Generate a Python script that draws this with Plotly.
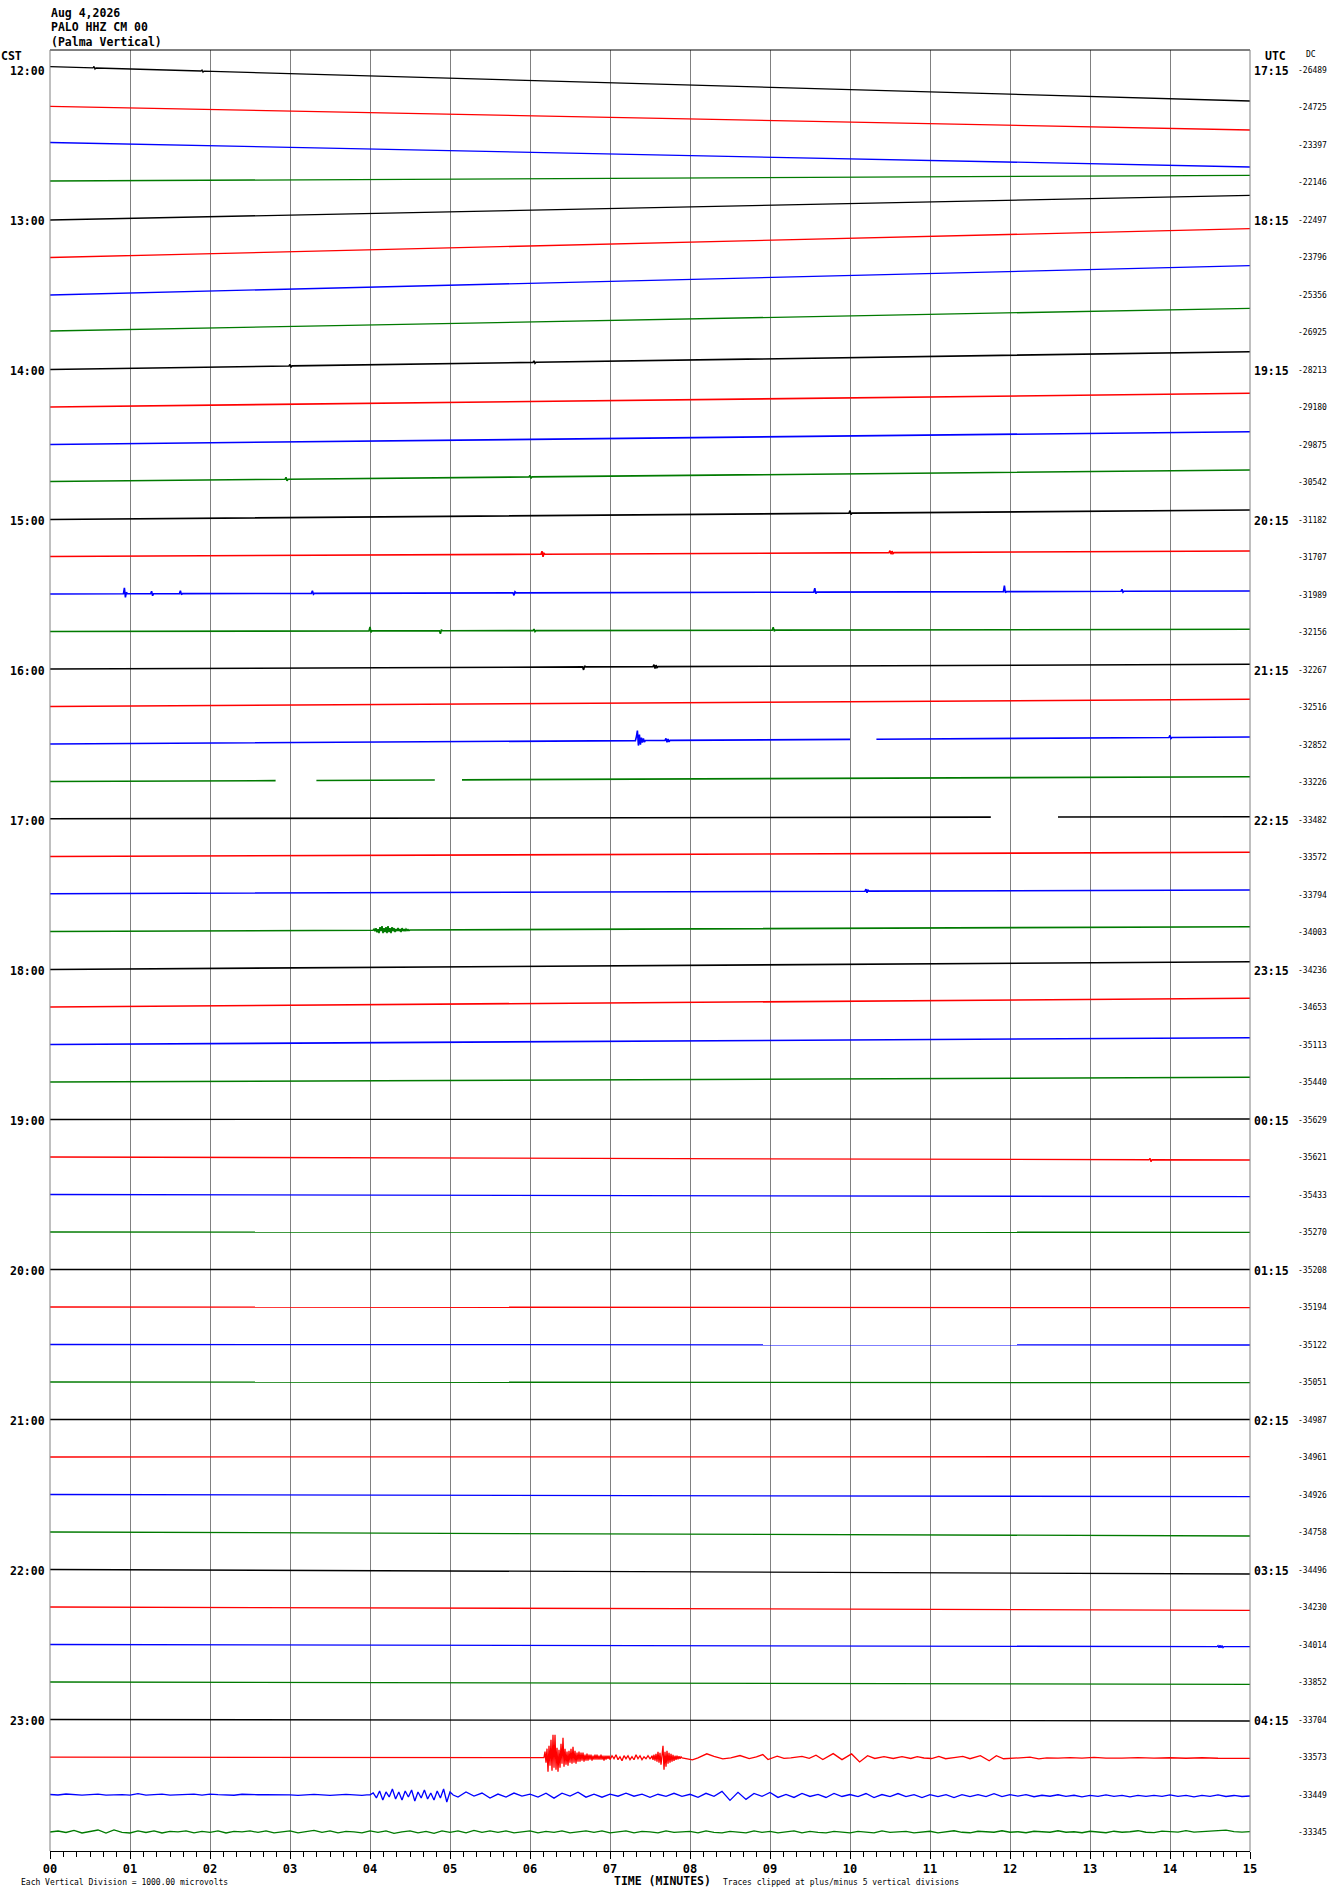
import plotly.graph_objects as go

# ---------------- data ----------------
FIRST_HOUR_CST = 12
FIRST_HOUR_UTC = 17
N_LINES = 48
LINE_MINUTES = 15

MINUTE_TICKS = list(range(0, 16))
MINUTE_LABELS = [f"{m:02d}" for m in MINUTE_TICKS]

DC_VALUES = [-26489, -24725, -23397, -22146, -22497, -23796, -25356, -26925,
             -28213, -29180, -29875, -30542, -31182, -31707, -31989, -32156,
             -32267, -32516, -32852, -33226, -33482, -33572, -33794, -34003,
             -34236, -34653, -35113, -35440, -35629, -35621, -35433, -35270,
             -35208, -35194, -35122, -35051, -34987, -34961, -34926, -34758,
             -34496, -34230, -34014, -33852, -33704, -33573, -33449, -33345]

# trace offset (screen px, + = down) at minute 0 and minute 15
START_OFFSET = [-3.3, -1.2, -2.5, -1.5, 0, 0, 0, -1.5,
                -0.5, -0.5, -0.5, -1, -0.5, -1, -1, -1,
                -1, -1, -1, -1, -1.3, -1, -1.3, -1,
                -0.5, -0.5, -0.5, -0.5, -0.5, -0.5, -0.5, -0.5,
                -0.5, -0.5, -0.5, -0.5, -0.5, -0.5, -0.5, -0.5,
                -0.5, -0.5, -0.5, -0.5, -0.5, -0.3, -0.5, -0.5]
END_OFFSET = [31, 22.5, 22, -7.2, -24.7, -28.8, -29.3, -24.2,
              -18.3, -14.2, -13.3, -12.5, -10, -6.5, -4, -3.2,
              -5.7, -8.2, -8, -5.8, -3.3, -5.2, -5, -5.8,
              -8.3, -9.2, -7.3, -5.2, -1, 2.5, 1.7, -0.2,
              -0.5, 0.2, 0, 0.2, -0.5, -0.8, 1.7, 3.5,
              4, 2.8, 1.7, 1.8, 1, 0.8, 1, -0.8]

# data gaps (minutes)
GAPS = {18: [(10.0, 10.33)], 19: [(2.82, 3.33), (4.81, 5.15)], 20: [(11.76, 12.6)]}

# wiggles: (start minute, sample step in minutes, offsets in px)
EQ_BURST_1 = [0, -6, 5, -9, 14, -12, 8, -18, 13, -23, 10, -23, 12, -10, 14, -8,
              10, -14, 6, -20, 9, -9, 7, -6, 8, -7, 5, -9, 6, -11, 5, -7, 6, -5,
              4, -6, 4, -5, 3, -5, 4, -3, 3, -4, 3, -3, 2, -3, 3, -2, 2, -3, 2,
              -3, 2, -2, 2, -3, 2, -2, 3, -2, 2, -2, 1, -2]
EQ_MID = [2, -2, 1, -3, 2, -1, 3, -2, 1, -2, 2, -1, 2, -3, 1, -2, 2, -1, 1, -2, 1]
EQ_BURST_2 = [-2, 2, -3, 3, -4, 4, -6, 5, -5, 7, -8, -12, 12, -6, 9, -7, 6, -5,
              5, -4, 4, -3, 3, -2, 2, -2, 1.5, -1.5, 1, -1]
EQ_WAVE_T = [7.95, 8.03, 8.1, 8.21, 8.30, 8.41, 8.51, 8.625, 8.74, 8.83, 8.91,
             8.975, 9.09, 9.175, 9.26, 9.40, 9.49, 9.575, 9.66, 9.79, 9.90,
             10.02, 10.12, 10.22, 10.31, 10.425, 10.54, 10.65, 10.76, 10.84,
             10.925, 11.02, 11.11, 11.195, 11.30, 11.41, 11.50, 11.63, 11.74,
             11.83, 11.92, 12.01, 12.125, 12.25, 12.36, 12.46, 12.6, 12.75,
             12.9, 13.05, 13.2, 13.4, 13.6, 13.8, 14.0, 14.2, 14.4, 14.6, 14.8]
EQ_WAVE_V = [1, 2, 0, -4, -1.5, 1, 0, -2.3, 0.7, -1, -3.3, 1.7, -1.7, 0.5, 0,
             -1.5, 0.5, -2.7, 1.7, -4.3, 1.7, -4, 4, -2.3, 0.5, -1.3, 0.5, -1.3,
             0.5, -1.3, 0, 0.5, -1.7, 0.7, -0.5, -1.7, 0.7, -2.3, 2.7, -2.3, 0.7,
             0, -0.3, -1, 0.7, -0.3, 0, -0.5, 0, -0.7, 0, 0, -0.5, 0, -0.5, 0,
             -0.5, 0, 0]

BLUE_LAST_A = [0, 0.5, -0.5, 0, 0.5, 0, -0.5, 0.5, 0, 0,
               0.5, -1, 0.5, 0, -0.5, 0.5, 0, 0, -0.5, 0.5,
               -0.5, 0, 0, 0.5, -0.5, 0, 0, 0, 0, -0.5,
               0, 0.5, 0, -0.5, 0, 0.5, 0, -0.5, 0, 0.5]
BLUE_LAST_BURST = [0, -2, 3, -4, 5, -3, 2, -6, 4, -3, 5, -4, 2, -5, 6, -3, 3,
                   -5, 4, -2, 5, -4, 3, -6, 7, -3]
BLUE_LAST_C = [2, -3, 1, -2, 3, -1, 2, -2, 1, -1,
               2, -2, 3, -2, 1, -3, 2, -1, 2, -1,
               1, -2, 1, -1, 2, -1, 1, -2, 1, -1,
               2, -2, 1, -4, 5, -3, 4, -2, 1, -3,
               2, -1, 2, -2, 1, -1, 2, -2, 1, -1,
               1, -2, 2, -1, 1, -2, 1, -1, 2, -1,
               1, -1, 2, -1, 1, -1, 1, -2, 1, -1,
               0.5, -1, 1, -0.5, 0.5, -1, 0.5, -0.5, 1, -0.5,
               0.5, -1, 0.5, -0.5, 1, -0.5, 0.5, -0.5, 0.5, -1,
               0.5, -0.5, 1, -0.5, 0.5, -1, 0.5, -0.5, 0.5, 0]
GREEN_LAST = [0, -1, 0.5, -1.5, 1, -0.5, -2, 1, -2, 0.5,
              1, -1, 0.5, -1, 1, -0.5, 0, -1, 1, -0.5,
              0.5, -1, 1, -0.5, 0, -1, 0.5, -1, 1, 0,
              -1, 1, 0, -1.5, 0.5, -1, 1, -0.5, 0, 1,
              -1, 0.5, -1, 1.5, 0, -1, 1, -0.5, 1.5, -1,
              0.5, -1, 1, -1.5, 0.5, -1, 0.5, -1, 1, 0,
              -1, 1, -0.5, 0.5, -1, 1, 0, -1, 0.5, -1,
              1, 0, -1, 1, -0.5, 0, 1, -1, 0.5, 0,
              -0.5, 1, -1, 0.5, 1, -0.5, 0, 1, -1, 0.5,
              -0.5, 1, 0, -1, 1, -0.5, 0.5, 1, -0.5, 0,
              1, -0.5, 0, 1, -1, 0.5, 0, -0.5, 1, 0,
              -0.5, 1, 0, -1, 0.5, 1, -0.5, 0, 0.5, -1,
              0.5, 0, 1, -0.5, 0, 0.5, -1, 0.5, 0, 1,
              -0.5, 0, 1, -0.5, 0.5, 0, -1, 0.5, 1, -0.5,
              0, 0.5, -1, 0.5, 0, -0.5, -1, -1.5, 0, 0.5,
              0]
GREEN_1745_BUMP = [-1, 1, -2, 2, -1, 3, -3, 1, -4, 3, -2, 2, -3, 3, -4, 2, -2,
                   3, -3, 1, -2, 2, -1, 1, -2, 1, -1, 2, -2, 1, -1, 1, -1, 0.5,
                   -0.5, 0.5]

FEATURES = {
    0: [(0.55, 0.0125, [-1.5, 1]), (1.9, 0.0125, [-1, 1])],
    8: [(3.0, 0.0125, [-1.5, 1.5]), (6.05, 0.0125, [-1.5, 1])],
    11: [(2.95, 0.0125, [-2, 1.5]), (6.0, 0.0125, [-1.5, 1.5])],
    12: [(10.0, 0.0125, [-2.5, 1.5])],
    13: [(6.15, 0.0125, [-3, 2.5, -1]), (10.5, 0.0125, [-2, 1.5, -1.5, 1])],
    14: [(0.93, 0.0125, [-6, 3.5, -1.5]), (1.27, 0.0125, [-2.5, 2]),
         (1.63, 0.0125, [-3, 1]), (3.28, 0.0125, [-2.5, 1]),
         (5.8, 0.0125, [2.5, -1]), (9.56, 0.0125, [-4, 1.5]),
         (11.93, 0.0125, [-6, 1]), (13.4, 0.0125, [-2, 1])],
    15: [(4.0, 0.0125, [-4, 1.5]), (4.88, 0.0125, [3, -1]),
         (6.05, 0.0125, [-1.5, 1]), (9.04, 0.0125, [-3, 1])],
    16: [(6.67, 0.0125, [3, -1]), (7.55, 0.0125, [-2, 2, -1.5, 1])],
    18: [(7.33, 0.0125, [-4, -10, 5, -6, 4, -3, 2, -2, 1.5]),
         (7.7, 0.0125, [-2, 2, -1.5, 1.5]), (14.0, 0.0125, [-2, 1])],
    22: [(10.2, 0.0125, [-2, 1.5, -1])],
    23: [(4.05, 0.0125, GREEN_1745_BUMP)],
    29: [(13.75, 0.0125, [-1.5, 2])],
    42: [(14.6, 0.0125, [-1, 1, -1.5, 1, -1, 1])],
    45: [(6.175, 0.0125, EQ_BURST_1), (7.0, 0.025, EQ_MID),
         (7.525, 0.0125, EQ_BURST_2)],
    46: [(0.0, 0.1, BLUE_LAST_A), (4.0, 0.04, BLUE_LAST_BURST),
         (5.1, 0.1, BLUE_LAST_C)],
    47: [(0.0, 0.1, GREEN_LAST)],
}
EXPLICIT = {45: (EQ_WAVE_T, EQ_WAVE_V)}

# ---------------- layout / style ----------------
COLORS = ["#000000", "#ff0000", "#0000ff", "#007a00"]
FIG_W, FIG_H = 1330, 1894
PLOT_L, PLOT_R, PLOT_T, PLOT_B = 50, 1250, 50, 1851
LINE0_Y = 70.0
LINE_GAP = 37.5
MONO = "DejaVu Sans Mono"


def px_x(px):
    return (px - PLOT_L) / (PLOT_R - PLOT_L)


def px_y(py):
    return (PLOT_B - py) / (PLOT_B - PLOT_T)


def build_line(i):
    pts = {0.0: 0.0, float(LINE_MINUTES): 0.0}
    gaps = GAPS.get(i, [])
    for a, b in gaps:
        pts[a] = 0.0
        pts[b] = 0.0
    feats = FEATURES.get(i, [])
    for t0, step, vals in feats:
        for tb in (t0 - step, t0 + step * len(vals)):
            if 0 <= tb <= LINE_MINUTES:
                pts.setdefault(round(tb, 5), 0.0)
    for t0, step, vals in feats:
        for k, v in enumerate(vals):
            t = round(t0 + k * step, 5)
            if 0 <= t <= LINE_MINUTES:
                pts[t] = v
    if i in EXPLICIT:
        for t, v in zip(*EXPLICIT[i]):
            pts[round(t, 5)] = v
    xs, ys = [], []
    prev = None
    for t in sorted(pts):
        if any(a < t < b for a, b in gaps):
            continue
        if prev is not None and any(prev <= a and t >= b for a, b in gaps):
            xs.append(None)
            ys.append(None)
        drift = START_OFFSET[i] + (END_OFFSET[i] - START_OFFSET[i]) * t / LINE_MINUTES
        xs.append(t)
        ys.append(i + (drift + pts[t]) / LINE_GAP)
        prev = t
    return xs, ys


fig = go.Figure()
for i in range(N_LINES):
    xs, ys = build_line(i)
    width = 1.6 if 8 <= i < 28 else 1.3
    fig.add_trace(go.Scatter(x=xs, y=ys, mode="lines",
                             line=dict(color=COLORS[i % 4], width=width),
                             hoverinfo="skip", showlegend=False))

ann = []
bold = dict(family=MONO, size=11.5, color="black", weight="bold")
small = dict(family=MONO, size=8, color="black")

for i in range(N_LINES):
    if i % 4 == 0:
        k = i // 4
        ann.append(dict(x=px_x(47), y=i, xref="paper", yref="y", xanchor="right",
                        yanchor="middle", text=f"{FIRST_HOUR_CST + k}:00", font=bold,
                        showarrow=False, yshift=-1))
        ann.append(dict(x=px_x(1252), y=i, xref="paper", yref="y", xanchor="left",
                        yanchor="middle", text=f"{(FIRST_HOUR_UTC + k) % 24:02d}:15",
                        font=bold, showarrow=False, yshift=-1))
    ann.append(dict(x=px_x(1296), y=i, xref="paper", yref="y", xanchor="left",
                    yanchor="middle", text=str(DC_VALUES[i]), font=small,
                    showarrow=False))

header = ["Aug 4,2026", "PALO HHZ CM 00", "(Palma Vertical)"]
for txt, yy in zip(header, [13, 27, 42]):
    ann.append(dict(x=px_x(49), y=px_y(yy), xref="paper", yref="paper",
                    xanchor="left", yanchor="middle", text=txt, font=bold,
                    showarrow=False))
ann.append(dict(x=px_x(-1), y=px_y(56), xref="paper", yref="paper", xanchor="left",
                yanchor="middle", text="CST", font=bold, showarrow=False))
ann.append(dict(x=px_x(1275), y=px_y(56), xref="paper", yref="paper",
                xanchor="center", yanchor="middle", text="UTC", font=bold,
                showarrow=False))
ann.append(dict(x=px_x(1311), y=px_y(54), xref="paper", yref="paper",
                xanchor="center", yanchor="middle", text="DC", font=small,
                showarrow=False))
ann.append(dict(x=px_x(662), y=px_y(1881), xref="paper", yref="paper",
                xanchor="center", yanchor="middle", text="TIME (MINUTES)",
                font=bold, showarrow=False))
ann.append(dict(x=px_x(19), y=px_y(1882), xref="paper", yref="paper",
                xanchor="left", yanchor="middle",
                text="Each Vertical Division = 1000.00 microvolts", font=small,
                showarrow=False))
ann.append(dict(x=px_x(721), y=px_y(1882), xref="paper", yref="paper",
                xanchor="left", yanchor="middle",
                text="Traces clipped at plus/minus 5 vertical divisions",
                font=small, showarrow=False))

shapes = [
    dict(type="line", xref="paper", yref="paper", x0=0, x1=1, y0=1, y1=1,
         line=dict(color="black", width=1)),
    dict(type="line", xref="paper", yref="paper", x0=0, x1=0, y0=0, y1=1,
         line=dict(color="#808080", width=1)),
    dict(type="line", xref="paper", yref="paper", x0=1, x1=1, y0=0, y1=1,
         line=dict(color="#808080", width=1)),
]

fig.update_layout(
    width=FIG_W, height=FIG_H,
    margin=dict(l=PLOT_L, r=FIG_W - PLOT_R, t=PLOT_T, b=FIG_H - PLOT_B),
    paper_bgcolor="white", plot_bgcolor="white",
    hovermode=False, showlegend=False,
    annotations=ann, shapes=shapes,
    xaxis=dict(range=[0, LINE_MINUTES], tickmode="array", tickvals=MINUTE_TICKS,
               ticktext=MINUTE_LABELS, showgrid=True, gridcolor="#808080",
               gridwidth=1, zeroline=False, showline=True, linecolor="black",
               linewidth=1, ticks="outside", ticklen=7, tickcolor="black",
               tickfont=dict(family=MONO, size=12, color="black", weight="bold"),
               minor=dict(tickmode="linear", tick0=0, dtick=1 / 6, ticks="outside",
                          ticklen=5, tickcolor="black", showgrid=False),
               fixedrange=True),
    yaxis=dict(range=[(PLOT_B - LINE0_Y) / LINE_GAP, (PLOT_T - LINE0_Y) / LINE_GAP],
               showgrid=False, zeroline=False, showticklabels=False,
               showline=False, ticks="", fixedrange=True),
)

fig.write_html(
    "out.html",
    config={"displayModeBar": False, "staticPlot": True},
    post_script="document.body.style.margin='0';document.body.style.overflow='hidden';",
)
